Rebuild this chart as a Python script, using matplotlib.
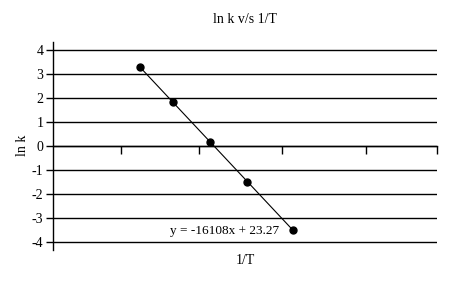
import matplotlib.pyplot as plt
import numpy as np

plt.rcParams["font.family"] = ["Liberation Serif", "DejaVu Serif"]

# 1/T values and ln k values
inv_T = [0.001240, 0.001330, 0.001434, 0.001536, 0.001661]
ln_k = [3.29, 1.82, 0.17, -1.49, -3.49]
x_ticks = [0.001188, 0.001403, 0.001632, 0.001863, 0.002059]
y_ticks = [-4, -3, -2, -1, 0, 1, 2, 3, 4]
equation = "y = -16108x + 23.27"

fig = plt.figure(figsize=(4.5, 2.83), dpi=100)
ax = fig.add_axes([53 / 450, 1 - 250 / 283, 384 / 450, 208 / 283])

ax.set_xlim(0.0010, 0.002059)
ax.set_ylim(-4.33, 4.33)

# horizontal gridlines
for yv in y_ticks:
    ax.axhline(yv, color="black", lw=1.0, zorder=1)

# trendline
x = np.array(inv_T)
y = np.array(ln_k)
m, b = np.polyfit(x, y, 1)
xl = np.array([x.min(), x.max()])
ax.plot(xl, m * xl + b, color="black", lw=0.8, zorder=2)
ax.plot(x, y, "o", color="black", ms=5, zorder=3)

ax.text(0.001323, -3.55, equation, fontsize=9.5, va="center", ha="left")

ax.spines["right"].set_visible(False)
ax.spines["top"].set_visible(False)
ax.spines["bottom"].set_position(("data", 0))
ax.spines["bottom"].set_bounds(0.0010, 0.002059)
ax.spines["left"].set_linewidth(1.0)
ax.spines["bottom"].set_linewidth(1.0)

ax.set_xticks(x_ticks)
ax.set_xticklabels([])
ax.tick_params(axis="x", direction="out", length=6, width=1.0)
ax.set_yticks(y_ticks)
ax.set_yticklabels([str(v) for v in y_ticks])
ax.tick_params(axis="y", direction="out", length=5, width=1.0, labelsize=10, pad=2)

ax.set_title("ln k v/s 1/T", fontsize=10, pad=14)
fig.text(245 / 450, 1 - 260 / 283, "1/T", fontsize=10, ha="center", va="center")
fig.text(22 / 450, 1 - 145 / 283, "ln k", fontsize=10, ha="center", va="center", rotation=90)

fig.savefig("out.png", dpi=100)
